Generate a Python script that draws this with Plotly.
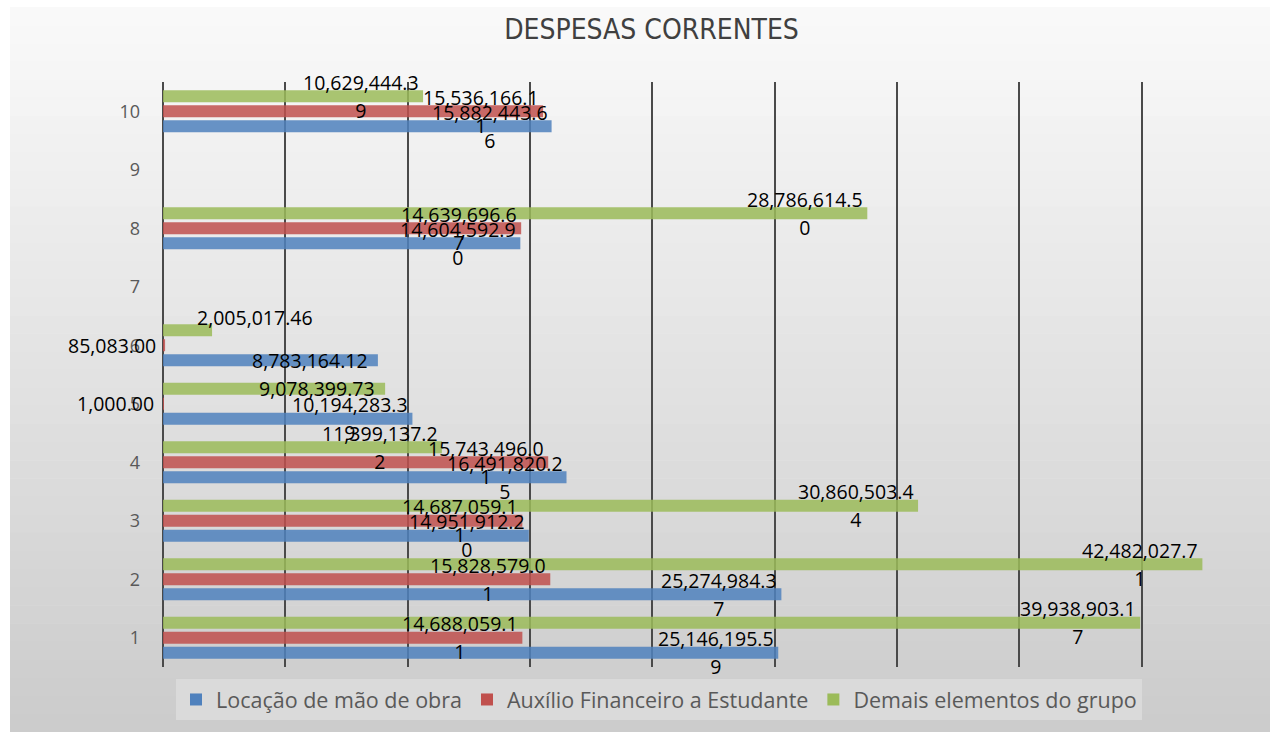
import plotly.graph_objects as go

categories = ["1", "2", "3", "4", "5", "6", "7", "8", "9", "10"]
locacao = [25146195.59, 25274984.37, 14951912.20, 16491820.25, 10194283.39,
           8783164.12, None, 14604592.90, None, 15882443.66]
auxilio = [14688059.11, 15828579.01, 14687059.11, 15743496.01, 1000.00,
           85083.00, None, 14639696.67, None, 15536166.11]
demais = [39938903.17, 42482027.71, 30860503.44, 11399137.22, 9078399.73,
          2005017.46, None, 28786614.50, None, 10629444.39]

series = [
    ("Locação de mão de obra", locacao, "#4F81BD"),
    ("Auxílio Financeiro a Estudante", auxilio, "#C0504D"),
    ("Demais elementos do grupo", demais, "#9BBB59"),
]

W, H = 1270, 732
ML, MR, MT, MB = 163, 6, 82, 65
PW, PH = W - ML - MR, H - MT - MB
BARGAP = 0.23
LABEL_FONT = dict(family="Open Sans, sans-serif", size=19.5, color="#000000")


def px_x(px):
    return (px - ML) / PW


def px_y(py):
    return (H - MB - py) / PH


fig = go.Figure()
for name, vals, color in series:
    fig.add_trace(
        go.Bar(
            y=categories,
            x=vals,
            name=name,
            orientation="h",
            marker=dict(color=color, opacity=0.85, line=dict(width=0)),
            hoverinfo="x+name",
        )
    )

# data labels, excel style (inside end, wrapped after 12 chars)
slot = PH / len(categories) * (1 - BARGAP) / 3
half_line = 1.3 * LABEL_FONT["size"] / 2
annotations = []
for i, (name, vals, color) in enumerate(series):
    off = (i - 1) * slot
    for ci, v in enumerate(vals):
        if v is None:
            continue
        s = f"{v:,.2f}"
        l1, l2 = s[:12], s[12:]
        # category axis: position annotations by category index
        base = dict(x=v, y=ci, xref="x", yref="y", showarrow=False,
                    font=LABEL_FONT, yanchor="middle")
        if l2:
            annotations.append(dict(base, text=l1, xanchor="right",
                                    xshift=-2, yshift=off + 14))
            annotations.append(dict(
                base,
                text=f"<span style='color:rgba(0,0,0,0)'>{l1}</span><br>{l2}",
                xanchor="right", align="center", xshift=-2,
                yshift=off - 14 + half_line,
            ))
        elif v >= 4.7e6:
            annotations.append(dict(base, text=s, xanchor="right",
                                    xshift=-8, yshift=off))
        elif v >= 1e6:
            annotations.append(dict(base, text=s, xanchor="left",
                                    xshift=-17, yshift=off + 13))
        else:
            annotations.append(dict(base, text=s, xanchor="right",
                                    xshift=-7, yshift=off))

# gradient background panel
shapes = []
top, bottom, n = 7, H, 40
for k in range(n):
    y0 = top + (bottom - top) * k / n
    y1 = top + (bottom - top) * (k + 1) / n
    g = round(250 - 47 * (k + 0.5) / n)
    shapes.append(dict(
        type="rect", xref="paper", yref="paper", layer="below",
        x0=px_x(10), x1=px_x(W + 2), y0=px_y(y1 + 0.5), y1=px_y(y0),
        fillcolor=f"rgb({g},{g},{g})", line=dict(width=0),
    ))

fig.update_layout(
    width=W,
    height=H,
    margin=dict(l=ML, r=MR, t=MT, b=MB, autoexpand=False),
    barmode="group",
    bargap=BARGAP,
    bargroupgap=0.2,
    paper_bgcolor="#ffffff",
    plot_bgcolor="rgba(0,0,0,0)",
    title=dict(
        text="DESPESAS CORRENTES",
        x=0.513,
        xanchor="center",
        y=1 - 29 / H,
        yanchor="middle",
        font=dict(family="Liberation Sans Narrow, DejaVu Sans Condensed, sans-serif",
                  size=28, color="#404040"),
    ),
    showlegend=True,
    legend=dict(
        orientation="h",
        x=px_x(176),
        xanchor="left",
        y=px_y(679),
        yanchor="top",
        bgcolor="#dadada",
        borderwidth=0,
        font=dict(family="Open Sans, sans-serif", size=21.5, color="#595959"),
        traceorder="normal",
    ),
    shapes=shapes,
    annotations=annotations,
)
fig.update_xaxes(
    range=[0, 45e6],
    dtick=5e6,
    showticklabels=False,
    showgrid=True,
    gridcolor="#4a4a4a",
    gridwidth=2,
    zeroline=True,
    zerolinecolor="#4a4a4a",
    zerolinewidth=2,
    showline=False,
)
fig.update_yaxes(
    type="category",
    categoryorder="array",
    categoryarray=categories,
    range=[-0.5, len(categories) - 0.5],
    showgrid=False,
    zeroline=False,
    ticks="",
    ticklabelstandoff=22,
    tickfont=dict(family="Open Sans, sans-serif", size=18, color="#595959"),
)

fig.write_html(
    "out.html",
    config={"displayModeBar": False},
    post_script="document.body.style.margin='0px';",
)
